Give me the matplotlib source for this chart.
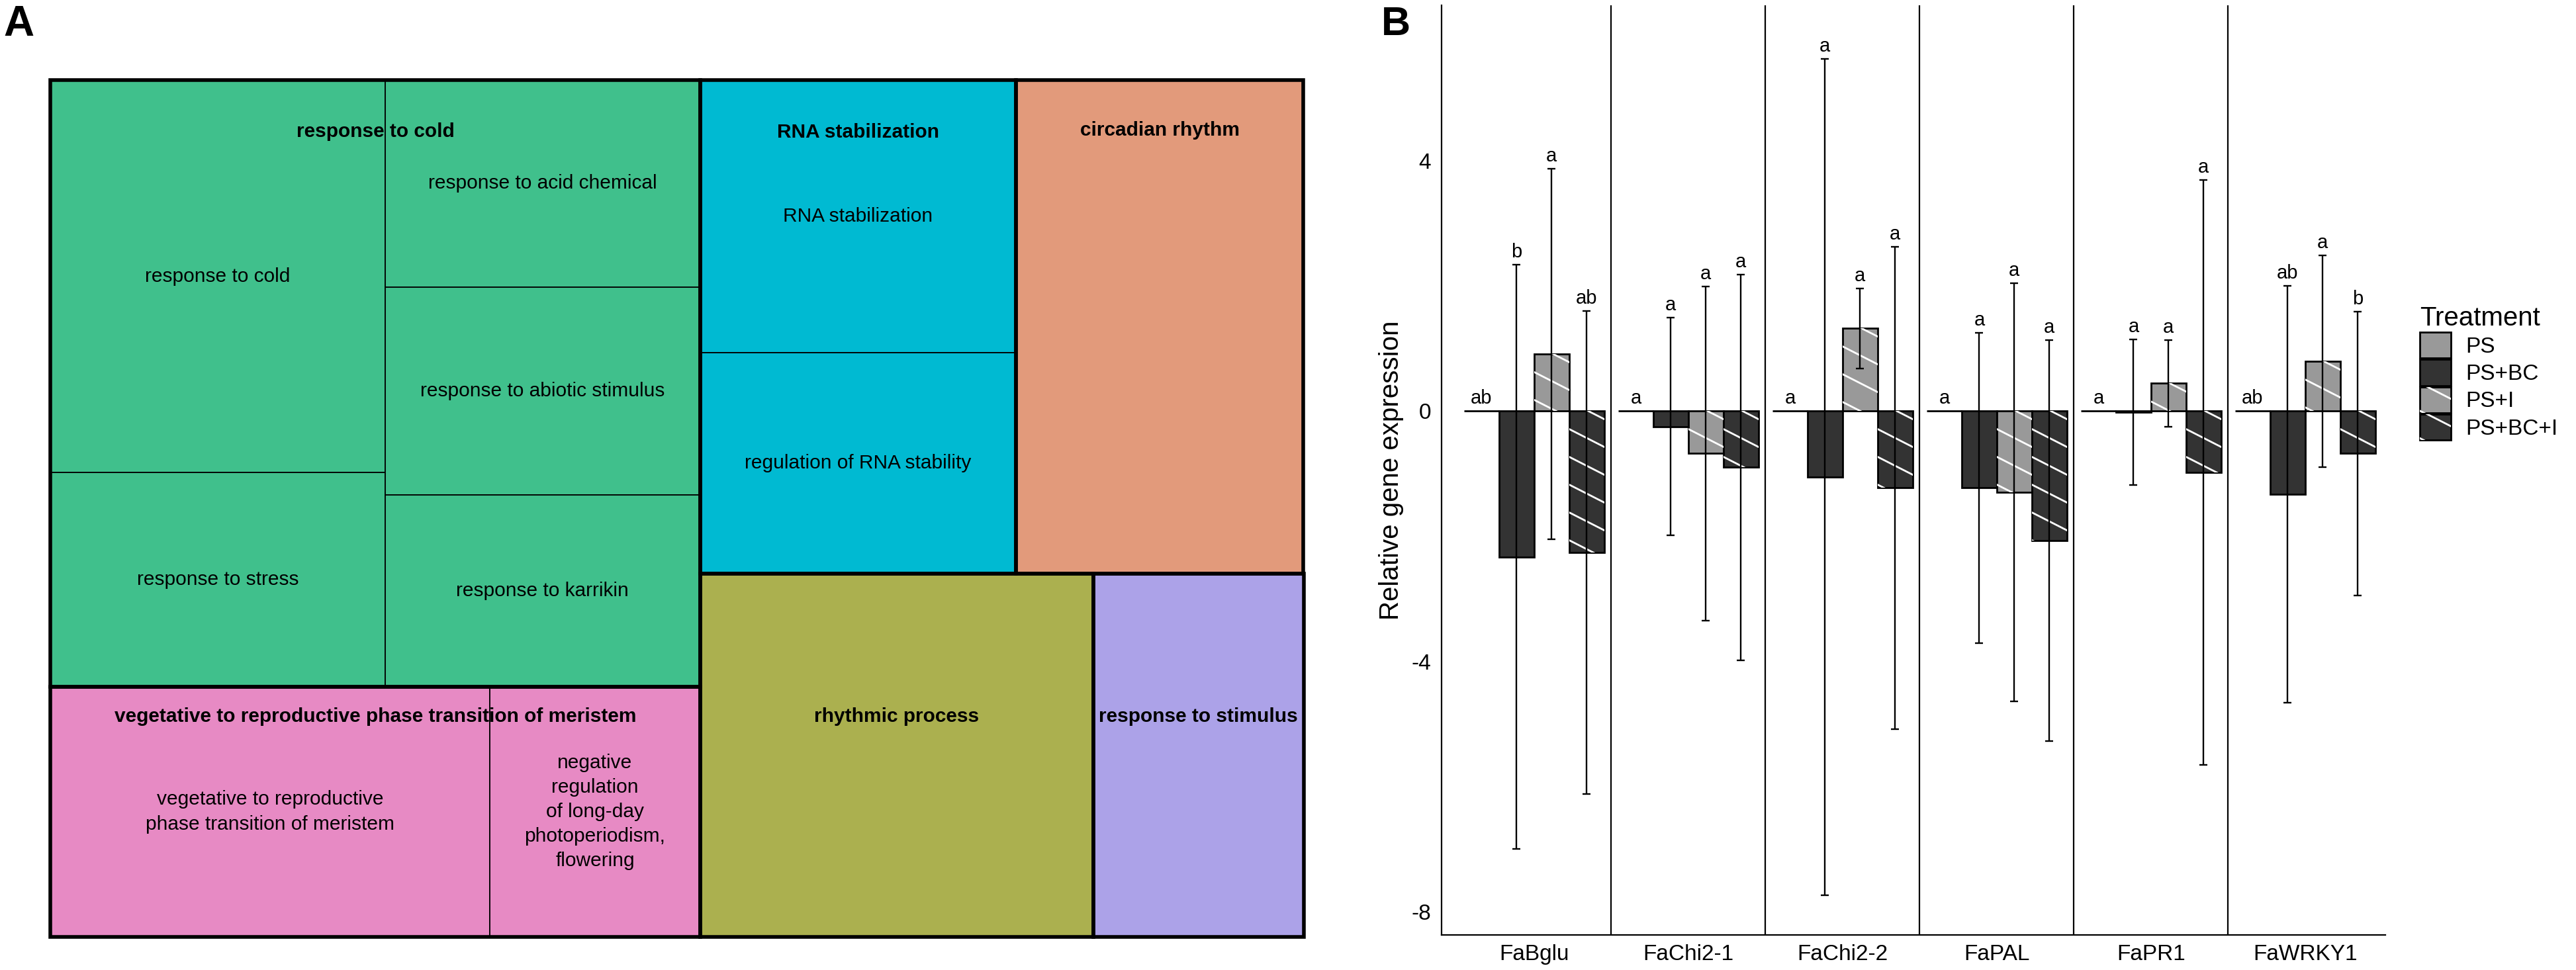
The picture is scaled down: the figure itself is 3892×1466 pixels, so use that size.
import numpy as np
import matplotlib
matplotlib.use('Agg')
import matplotlib.pyplot as plt
from matplotlib.patches import Rectangle, Patch
from matplotlib.lines import Line2D
from matplotlib.legend_handler import HandlerBase

plt.rcParams['font.family'] = ['Liberation Sans', 'DejaVu Sans']

# ---------- panel A data: reduced GO terms ----------
parents = ['response to cold',
           'vegetative to reproductive phase transition of meristem',
           'RNA stabilization', 'circadian rhythm',
           'rhythmic process', 'response to stimulus']
parent_colors = ['#40C08C', '#E78AC4', '#00BAD2', '#E29A7B', '#ABB04F', '#ACA2E8']
children = [
    ['response to cold', 'response to stress', 'response to acid chemical',
     'response to abiotic stimulus', 'response to karrikin'],
    ['vegetative to reproductive\nphase transition of meristem',
     'negative\nregulation\nof long-day\nphotoperiodism,\nflowering'],
    ['RNA stabilization', 'regulation of RNA stability'],
    ['circadian rhythm'],
    ['rhythmic process'],
    ['response to stimulus'],
]
child_sizes = [
    [299.8, 163.8, 149.1, 149.6, 138.2],
    [251.0, 120.2],
    [196.1, 159.4],
    [324.5],
    [326.1],
    [174.3],
]

# ---------- panel B data: relative gene expression ----------
genes = ['FaBglu', 'FaChi2-1', 'FaChi2-2', 'FaPAL', 'FaPR1', 'FaWRKY1']
treatments = ['PS', 'PS+BC', 'PS+I', 'PS+BC+I']
mean_ps = [0, 0, 0, 0, 0, 0]
mean_psbc = [-2.33, -0.25, -1.06, -1.23, -0.02, -1.33]
mean_psi = [0.91, -0.68, 1.32, -1.30, 0.44, 0.79]
mean_psbci = [-2.26, -0.90, -1.23, -2.07, -0.98, -0.68]
err_ps = [0, 0, 0, 0, 0, 0]
err_psbc = [4.67, 1.74, 6.68, 2.48, 1.16, 3.33]
err_psi = [2.96, 2.67, 0.64, 3.34, 0.69, 1.69]
err_psbci = [3.86, 3.08, 3.85, 3.20, 4.67, 2.27]
letters_ps = ['ab', 'a', 'a', 'a', 'a', 'ab']
letters_psbc = ['b', 'a', 'a', 'a', 'a', 'ab']
letters_psi = ['a', 'a', 'a', 'a', 'a', 'a']
letters_psbci = ['ab', 'a', 'a', 'a', 'a', 'b']

means = [mean_ps, mean_psbc, mean_psi, mean_psbci]
errs = [err_ps, err_psbc, err_psi, err_psbci]
letters = [letters_ps, letters_psbc, letters_psi, letters_psbci]
fills = ['#999999', '#333333', '#999999', '#333333']
striped = [False, False, True, True]


def pivot_layout(sizes, x, y, w, h):
    # ordered pivot-by-size treemap, y grows downwards
    if len(sizes) == 0:
        return []
    if len(sizes) == 1:
        return [(x, y, w, h)]
    if h > w:
        return [(b, a, d, c) for a, b, c, d in pivot_layout(sizes, y, x, h, w)]
    total = float(sum(sizes))
    p = int(np.argmax(sizes))
    before, piv, after = sizes[:p], sizes[p], sizes[p + 1:]
    w1 = w * sum(before) / total
    best = None
    for k in range(len(after) + 1):
        cw = w * (piv + sum(after[:k])) / total
        ph = h * piv / (piv + sum(after[:k]))
        ratio = max(cw / ph, ph / cw)
        if best is None or ratio < best[0]:
            best = (ratio, k, cw, ph)
    _, k, cw, ph = best
    out = pivot_layout(before, x, y, w1, h)
    out.append((x + w1, y, cw, ph))
    out += pivot_layout(after[:k], x + w1, y + ph, cw, h - ph)
    out += pivot_layout(after[k:], x + w1 + cw, y, w - w1 - cw, h)
    return out


fig = plt.figure(figsize=(38.92, 14.66), dpi=100)
fig.patch.set_facecolor('white')

# ================= A: treemap =================
axA = fig.add_axes([76 / 3892, 50 / 1466, 1893.5 / 3892, 1295 / 1466])
W, H = axA.bbox.width, axA.bbox.height
axA.set_xlim(0, W)
axA.set_ylim(H, 0)
axA.axis('off')

group_sizes = [sum(s) for s in child_sizes]
scale = W * H / sum(group_sizes)
group_rects = pivot_layout([g * scale for g in group_sizes], 0, 0, W, H)

# parent label drop below group top (fraction of the map height)
header_drop = [0.060, 0.035, 0.061, 0.059, 0.167, 0.167]

for gi, (gx, gy, gw, gh) in enumerate(group_rects):
    crects = pivot_layout([c * scale for c in child_sizes[gi]], gx, gy, gw, gh)
    for ci, (cx, cy, cw, ch) in enumerate(crects):
        axA.add_patch(Rectangle((cx, cy), cw, ch, facecolor=parent_colors[gi],
                                edgecolor='black', lw=1.3, clip_on=False, zorder=1))
        if len(crects) > 1:
            axA.text(cx + cw / 2, cy + ch / 2, children[gi][ci], ha='center', va='center',
                     fontsize=21.5, linespacing=1.42, zorder=4)
    axA.add_patch(Rectangle((gx, gy), gw, gh, facecolor='none', edgecolor='black',
                            lw=4, clip_on=False, zorder=3))
    axA.text(gx + gw / 2, gy + header_drop[gi] * H, parents[gi], ha='center', va='center',
             fontsize=21.5, fontweight='bold', zorder=5)

fig.text(5 / 3892, 1 - 7 / 1466, 'A', fontsize=46, fontweight='bold', ha='left', va='top')
fig.text(2087 / 3892, 1 - 9 / 1466, 'B', fontsize=44, fontweight='bold', ha='left', va='top')

# ================= B: bar chart =================
axB = fig.add_axes([2178 / 3892, 53 / 1466, 1426 / 3892, 1405 / 1466])
x = np.arange(len(genes))
bw = 0.227
axB.set_xlim(-0.60, 5.52)
axB.set_ylim(-8.37, 6.48)
sx = axB.bbox.width / (5.52 + 0.60)
sy = axB.bbox.height / (6.48 + 8.37)
slope_px = 0.51
gap_px = 42

for ti in range(len(treatments)):
    xs = x + (ti - 1.5) * bw
    bars = axB.bar(xs, means[ti], bw, color=fills[ti], edgecolor='black', lw=2, zorder=2)
    if striped[ti]:
        m = slope_px * sx / sy
        step = gap_px / sy
        for b in bars:
            x0, y0 = b.get_x(), b.get_y()
            bwid, bh = b.get_width(), b.get_height()
            lo, hi = min(y0, y0 + bh), max(y0, y0 + bh)
            c = hi + 0.35 * step
            while c > lo - 0.1:
                ln = Line2D([x0, x0 + bwid], [c, c - m * bwid], color='white', lw=2, zorder=3)
                axB.add_line(ln)
                ln.set_clip_path(b)
                c -= step
    for gi in range(len(genes)):
        if errs[ti][gi] > 0:
            axB.errorbar(xs[gi], means[ti][gi], yerr=errs[ti][gi], fmt='none',
                         ecolor='black', elinewidth=1.7, capsize=4.2, capthick=1.7, zorder=4)
        top = means[ti][gi] + errs[ti][gi] if means[ti][gi] + errs[ti][gi] > 0 else 0
        axB.annotate(letters[ti][gi], (xs[gi], top), xytext=(0, 8), textcoords='offset points',
                     ha='center', va='baseline', fontsize=21)

for i in range(len(genes) - 1):
    axB.axvline(i + 0.5, color='black', lw=1.6, zorder=1)

for s in ['top', 'right']:
    axB.spines[s].set_visible(False)
for s in ['left', 'bottom']:
    axB.spines[s].set_linewidth(1.6)
axB.set_yticks([-8, -4, 0, 4])
axB.set_yticklabels(['-8', '-4', '0', '4'])
axB.set_xticks(x)
axB.set_xticklabels(genes)
axB.tick_params(axis='both', length=0, labelsize=24)
axB.tick_params(axis='y', pad=11.5)
axB.tick_params(axis='x', pad=10)
axB.set_ylabel('Relative gene expression', fontsize=29)
axB.yaxis.set_label_coords(-0.040, 0.5)


class KeyHandler(HandlerBase):
    def __init__(self, stripe):
        super().__init__()
        self.stripe = stripe

    def create_artists(self, legend, orig_handle, xdescent, ydescent, width, height,
                       fontsize, trans):
        x0, y0 = -xdescent, -ydescent
        rect = Rectangle((x0, y0), width, height, facecolor=orig_handle.get_facecolor(),
                         edgecolor='black', lw=2, transform=trans)
        arts = [rect]
        if self.stripe:
            c = y0 + height * 1.15
            while c > y0 - 2:
                ln = Line2D([x0, x0 + width], [c, c - slope_px * width], color='white',
                            lw=2, transform=trans)
                ln.set_clip_path(rect)
                arts.append(ln)
                c -= gap_px * 0.72
        return arts


handles = [Patch(facecolor=fills[i]) for i in range(len(treatments))]
hmap = {h: KeyHandler(striped[i]) for i, h in enumerate(handles)}
leg = fig.legend(handles, treatments, handler_map=hmap, loc='upper left',
                 bbox_to_anchor=(3656 / 3892, 1 - 462 / 1466), frameon=False,
                 title='Treatment', title_fontsize=29, fontsize=24, alignment='left',
                 handlelength=1.41, handleheight=1.44, labelspacing=0.06,
                 handletextpad=0.66, borderpad=0, borderaxespad=0)

fig.savefig('out.png', dpi=100, facecolor='white')
